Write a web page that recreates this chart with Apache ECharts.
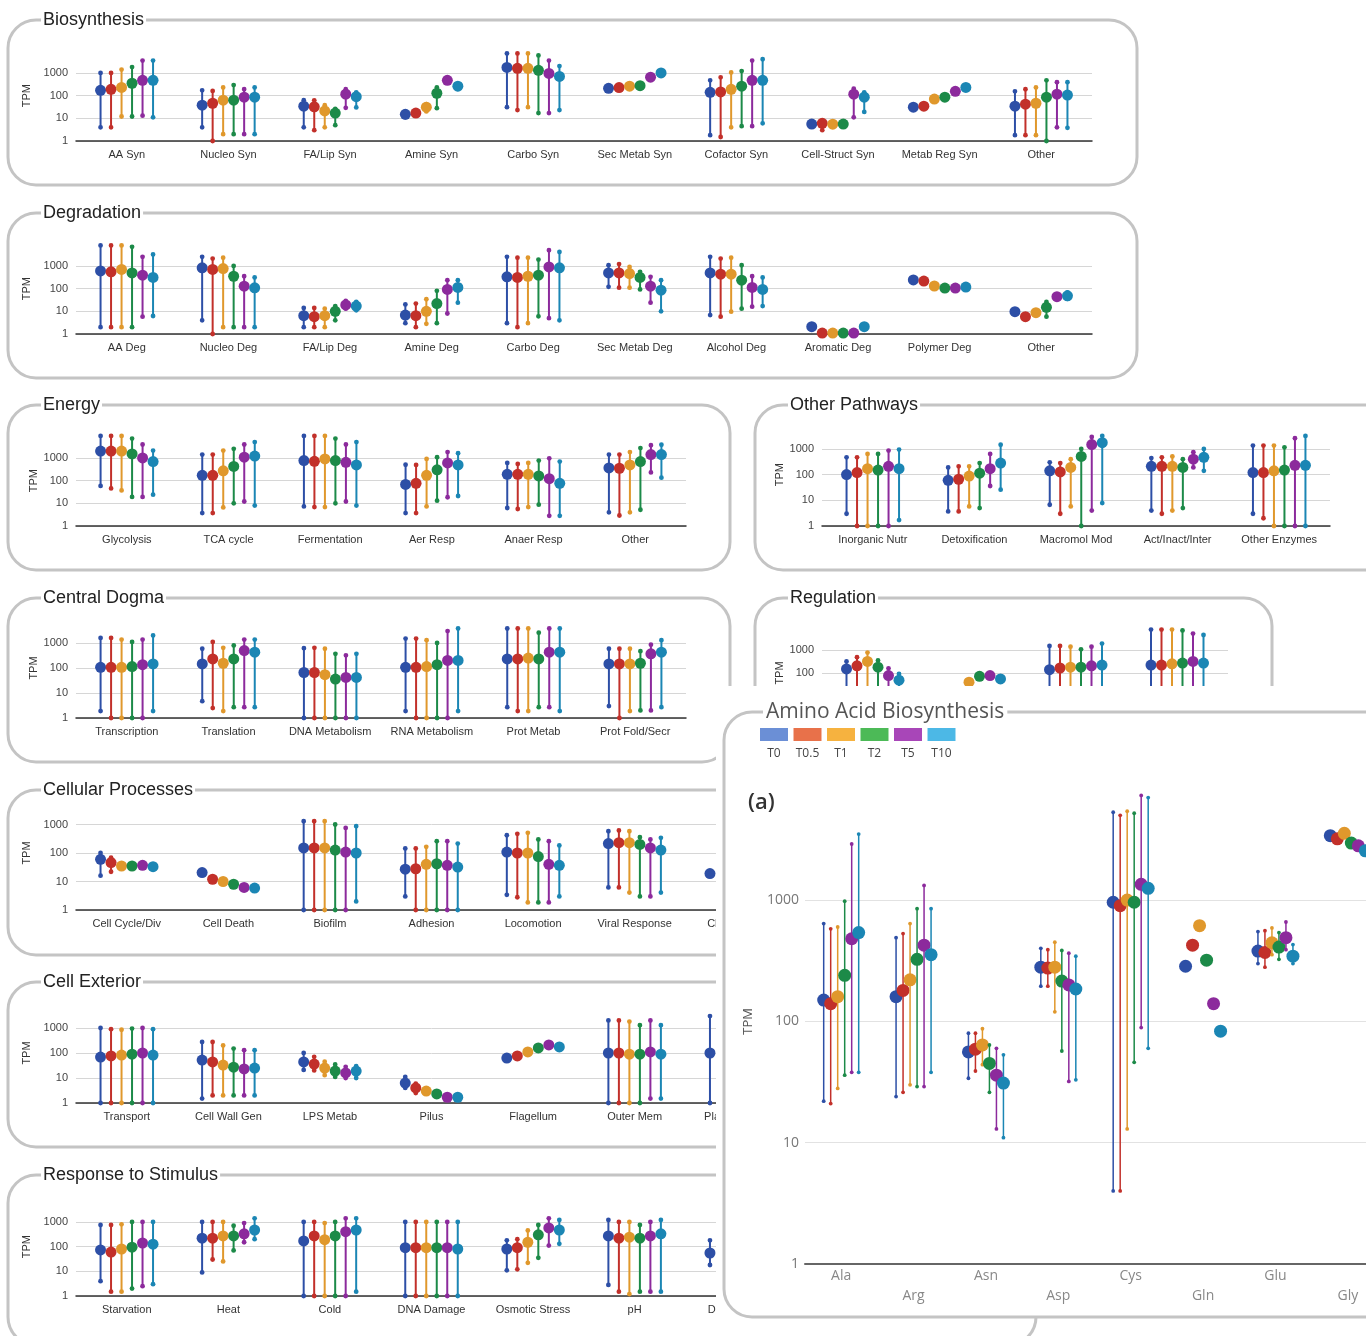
<!DOCTYPE html>
<html>
<head>
<meta charset="utf-8">
<title>Gene expression by functional category</title>
<script src="https://cdn.jsdelivr.net/npm/echarts@6/dist/echarts.min.js"></script>
<style>
  html, body { margin: 0; padding: 0; background: #fff; }
  #chart { width: 1366px; height: 1336px; }
</style>
</head>
<body>
<div id="chart"></div>
<script>
// time points and their colours
const times = ["T0", "T0.5", "T1", "T2", "T5", "T10"];
const seriesColors = ["#2d4fa6", "#c2302a", "#e0982c", "#1c8a48", "#8c2a9c", "#1b86b4"];
const legendColors = ["#6b8fd6", "#e8714a", "#f6b23f", "#4cba57", "#a846b8", "#4cb8e6"];

// each row = one category, each column = one time point (TPM)
const bioCats = ["AA Syn", "Nucleo Syn", "FA/Lip Syn", "Amine Syn", "Carbo Syn", "Sec Metab Syn", "Cofactor Syn", "Cell-Struct Syn", "Metab Reg Syn", "Other"];
const bioMed = [[170, 190, 230, 350, 470, 470], [38, 46, 63, 63, 85, 85], [34, 32, 21, 17, 115, 90], [15, 17, 31, 127, 470, 260], [1750, 1600, 1600, 1300, 950, 700], [210, 225, 260, 275, 650, 1000], [140, 145, 190, 260, 470, 470], [5.6, 6, 5.5, 5.6, 115, 85], [31, 34, 70, 85, 155, 230], [34, 42, 46, 85, 115, 105]];
const bioLo = [[4, 4, 12, 12, 13, 11], [4, 1, 2, 2, 2, 2], [4, 3, 4, 5, 29, 30], [11, 14, 20, 28, 380, 200], [31, 23, 31, 17, 17, 23], [210, 225, 260, 275, 650, 1000], [1.8, 1.5, 4, 4.5, 4.5, 6], [5.6, 3, 5.5, 5.6, 11, 19], [31, 34, 70, 85, 155, 230], [1.8, 1.8, 1.8, 1, 4, 3.8]];
const bioHi = [[1000, 1000, 1400, 1800, 3500, 3500], [170, 160, 230, 290, 190, 230], [63, 62, 38, 26, 190, 140], [19, 20, 42, 230, 560, 320], [7200, 7200, 7200, 5900, 3500, 2000], [210, 225, 260, 275, 650, 1000], [470, 640, 1050, 1200, 3500, 4000], [5.6, 6, 5.5, 5.6, 200, 140], [31, 34, 70, 85, 155, 230], [155, 190, 230, 470, 390, 390]];

const degCats = ["AA Deg", "Nucleo Deg", "FA/Lip Deg", "Amine Deg", "Carbo Deg", "Sec Metab Deg", "Alcohol Deg", "Aromatic Deg", "Polymer Deg", "Other"];
const degMed = [[600, 550, 700, 490, 390, 310], [820, 700, 760, 350, 128, 108], [6.4, 5.8, 6.4, 10, 19, 17], [6.8, 6.4, 10, 22, 92, 112], [330, 310, 350, 390, 900, 820], [490, 490, 460, 310, 128, 85], [490, 430, 430, 235, 112, 92], [2.1, 1.1, 1.1, 1.1, 1.1, 2.1], [240, 215, 130, 106, 106, 117], [9.6, 5.8, 8.7, 15, 44, 48]];
const degLo = [[2, 2, 2, 2, 5.8, 6.2], [4, 1, 2, 2, 2, 2], [2, 2, 2, 4, 13, 11], [3, 2, 2.8, 3, 8, 24], [3, 2, 3, 6, 5, 4], [120, 110, 110, 92, 24, 10], [6.8, 5.8, 9.6, 13, 16, 17], [2.1, 1.1, 1.1, 1.1, 1.1, 2.1], [240, 215, 130, 106, 106, 117], [9.6, 5.8, 8.7, 5.8, 44, 35]];
const degHi = [[8000, 8000, 8000, 6900, 2500, 3200], [2500, 2100, 2300, 1000, 350, 310], [14, 14, 13, 17, 29, 26], [20, 22, 34, 80, 235, 235], [2500, 2300, 2300, 1900, 4900, 4100], [1070, 1200, 900, 550, 330, 235], [2500, 2100, 2300, 1070, 350, 310], [2.1, 1.1, 1.1, 1.1, 1.1, 2.1], [240, 215, 130, 106, 106, 117], [9.6, 5.8, 8.7, 26, 44, 68]];

const enCats = ["Glycolysis", "TCA cycle", "Fermentation", "Aer Resp", "Anaer Resp", "Other"];
const enMed = [[2000, 2000, 2000, 1500, 1000, 690], [170, 170, 270, 420, 1070, 1200], [760, 710, 900, 760, 640, 490], [68, 76, 170, 300, 600, 490], [190, 190, 190, 160, 122, 76], [360, 350, 490, 690, 1400, 1400]];
const enLo = [[58, 45, 37, 19, 19, 24], [3.7, 3.7, 6.6, 10, 12, 7.9], [7.3, 6.8, 6.8, 10, 12, 7.9], [3.7, 3.7, 7.3, 13, 18.5, 21], [6.2, 5.6, 6.8, 8.7, 2.8, 2.8], [4, 2.9, 4, 5.2, 230, 135]];
const enHi = [[9300, 9300, 9300, 7100, 3900, 2100], [1400, 1400, 2100, 2500, 3900, 5000], [9300, 9300, 9300, 7100, 3900, 5000], [500, 490, 900, 1070, 1800, 1600], [600, 540, 600, 760, 960, 690], [1400, 1400, 1800, 2700, 3600, 3800]];

const opCats = ["Inorganic Nutr", "Detoxification", "Macromol Mod", "Act/Inact/Inter", "Other Enzymes"];
const opMed = [[100, 120, 170, 150, 210, 170], [60, 66, 88, 113, 170, 280], [140, 127, 190, 510, 1480, 1740], [210, 210, 210, 190, 400, 470], [120, 120, 140, 150, 230, 230]];
const opLo = [[3, 1, 1, 1, 1, 1.7], [3.7, 3.7, 5.8, 5, 36, 26], [6.7, 3, 5.8, 1, 4, 7.8], [4, 3, 4, 5, 190, 140], [3, 2, 1, 1, 1, 1]];
const opHi = [[470, 470, 640, 640, 860, 940], [190, 210, 210, 280, 640, 1450], [300, 280, 400, 1000, 2900, 3200], [440, 470, 510, 400, 740, 1000], [1350, 1350, 1350, 1150, 2600, 3200]];

const cdCats = ["Transcription", "Translation", "DNA Metabolism", "RNA Metabolism", "Prot Metab", "Prot Fold/Secr"];
const cdMed = [[106, 106, 106, 114, 136, 145], [145, 230, 155, 230, 500, 430], [66, 66, 54, 36, 42, 42], [106, 106, 114, 136, 200, 200], [230, 230, 250, 230, 430, 430], [145, 145, 145, 155, 370, 430]];
const cdLo = [[1.9, 1, 1, 1, 1, 1.9], [4.7, 2.5, 1.9, 2.7, 2.7, 2.7], [1, 1, 1, 1, 1, 1], [1.9, 1, 1, 1, 1, 1.9], [2.7, 1.9, 1.9, 2.7, 2.7, 1.9], [3, 1, 1.9, 2, 2, 2.7]];
const cdHi = [[1600, 1600, 1370, 1100, 1370, 2000], [590, 1100, 640, 800, 1370, 1370], [620, 640, 590, 370, 320, 370], [1500, 1500, 1300, 1000, 3000, 3800], [3800, 3800, 3800, 2600, 3800, 3800], [590, 590, 590, 470, 860, 1300]];

// labels of this panel are hidden under the inset
const regCats = ["Transcr Reg", "Signal Trans", "Two-Comp Sys", "Other Reg"];
const regMed = [[150, 205, 320, 180, 77, 49], [null, null, 40, 72, 77, 55], [140, 165, 180, 180, 205, 220], [220, 220, 250, 270, 320, 270]];
const regLo = [[2, 2, 1, 2, 2, 2], [null, null, 40, 72, 77, 55], [1, 1, 1, 1, 1, 1], [1, 1, 1, 1, 1, 1]];
const regHi = [[320, 490, 770, 350, 160, 91], [null, null, 40, 72, 77, 55], [1500, 1500, 1400, 1070, 1400, 1900], [7700, 7700, 7700, 7100, 5200, 4500]];

const cpCats = ["Cell Cycle/Div", "Cell Death", "Biofilm", "Adhesion", "Locomotion", "Viral Response", "Chemotaxis"];
const cpMed = [[60, 46, 35, 35, 37, 33], [20.6, 12, 10, 8, 6.2, 5.9], [150, 150, 150, 127, 108, 100], [27, 28, 40, 42, 37, 32], [108, 100, 100, 75, 40, 37], [215, 230, 230, 200, 150, 127], [19, null, null, null, null, null]];
const cpLo = [[16, 22, 35, 35, 37, 33], [20.6, 12, 10, 8, 6.2, 5.9], [1, 1, 1, 1, 1, 2], [3, 1, 1, 1, 1, 1], [3.4, 2.8, 1.85, 1.85, 1.85, 3], [6.2, 6.2, 4.1, 3, 3, 4.1], [19, null, null, null, null, null]];
const cpHi = [[100, 68, 35, 35, 37, 33], [20.6, 12, 10, 8, 6.2, 5.9], [1300, 1300, 1300, 1000, 760, 870], [145, 145, 165, 260, 260, 215], [420, 470, 510, 300, 260, 185], [580, 620, 580, 360, 300, 340], [19, null, null, null, null, null]];

const ceCats = ["Transport", "Cell Wall Gen", "LPS Metab", "Pilus", "Flagellum", "Outer Mem", "Plasma Mem"];
const ceMed = [[69, 76, 83, 90, 100, 83], [52, 44, 33, 27, 23, 25], [44, 36, 25, 19, 16, 19], [6.3, 4, 3, 2.3, 1.7, 1.7], [63, 76, 110, 160, 210, 175], [100, 100, 90, 90, 110, 90], [100, null, null, null, null, null]];
const ceLo = [[1, 1, 1, 1, 1, 1], [1.5, 2, 2, 2, 2, 2], [21, 20, 13, 11, 10, 10], [4, 2.5, 3, 2.3, 1.7, 1.7], [63, 76, 110, 160, 210, 175], [1, 1, 1, 1, 1.5, 1.5], [1, null, null, null, null, null]];
const ceHi = [[1000, 900, 850, 950, 1000, 900], [275, 275, 200, 150, 130, 130], [100, 70, 45, 35, 28, 30], [11, 6, 3, 2.3, 1.7, 1.7], [63, 76, 110, 160, 210, 175], [2000, 2000, 1800, 1300, 2000, 1300], [3000, null, null, null, null, null]];

const rsCats = ["Starvation", "Heat", "Cold", "DNA Damage", "Osmotic Stress", "pH", "Desiccation"];
const rsMed = [[73, 60, 80, 95, 140, 125], [220, 220, 270, 270, 330, 470], [170, 270, 190, 270, 400, 470], [90, 90, 90, 90, 90, 80], [80, 90, 150, 300, 570, 470], [270, 220, 240, 220, 270, 330], [55, null, null, null, null, null]];
const rsLo = [[4, 1.5, 1.5, 2, 2.5, 3], [9, 30, 25, 70, 150, 200], [1, 1, 1, 1, 1, 1.5], [1, 1, 1, 1, 1, 1], [11, 12, 22, 35, 110, 130], [2.8, 1.5, 1.2, 1.5, 1.5, 1.5], [18, null, null, null, null, null]];
const rsHi = [[750, 750, 800, 1000, 1000, 1000], [1000, 1000, 1000, 700, 900, 1400], [1000, 1000, 900, 1000, 1400, 1400], [1000, 1000, 1000, 1000, 1000, 1000], [180, 200, 450, 750, 1400, 1200], [1200, 1000, 1000, 750, 1000, 1200], [180, null, null, null, null, null]];

// inset (a): amino acid biosynthesis
const aaCats = ["Ala", "Arg", "Asn", "Asp", "Cys", "Gln", "Glu", "Gly"];
const aaMed = [[150, 140, 160, 240, 480, 540], [160, 180, 220, 325, 425, 355], [56, 59, 64, 45, 36, 31], [280, 275, 280, 215, 200, 185], [960, 900, 1000, 960, 1350, 1250], [285, 425, 615, 320, 140, 83], [380, 370, 445, 410, 490, 345], [3400, 3200, 3550, 2950, 2800, 2550]];
const aaLo = [[22, 21, 28, 36, 38, 38], [24, 26, 30, 29, 29, 38], [34, 39, 44, 26, 13, 11], [195, 195, 120, 57, 32, 33], [4, 4, 13, 46, 89, 60], [285, 425, 615, 320, 140, 83], [300, 280, 355, 325, 390, 300], [3400, 3200, 3550, 2950, 2800, 2550]];
const aaHi = [[640, 580, 600, 980, 2900, 3500], [490, 530, 640, 850, 1320, 850], [80, 80, 87, 64, 60, 53], [400, 390, 450, 385, 365, 345], [5300, 5000, 5400, 5200, 7300, 7000], [285, 425, 615, 320, 140, 83], [550, 560, 590, 540, 660, 430], [3400, 3200, 3550, 2950, 2800, 2550]];

// layout: box [x, y, w, h], grid [left, y of value 1, width, px per decade]
const panels = [
  { title: "Biosynthesis", cats: bioCats, med: bioMed, lo: bioLo, hi: bioHi, box: [8, 20, 1129, 165], tx: 43, grid: [76, 141, 1016, 22.7] },
  { title: "Degradation", cats: degCats, med: degMed, lo: degLo, hi: degHi, box: [8, 213, 1129, 165], tx: 43, grid: [76, 334, 1016, 22.7] },
  { title: "Energy", cats: enCats, med: enMed, lo: enLo, hi: enHi, box: [8, 405, 722, 165], tx: 43, grid: [76, 526, 610, 22.7] },
  { title: "Other Pathways", cats: opCats, med: opMed, lo: opLo, hi: opHi, box: [755, 405, 640, 165], tx: 790, grid: [822, 526, 508, 25.7] },
  { title: "Central Dogma", cats: cdCats, med: cdMed, lo: cdLo, hi: cdHi, box: [8, 598, 722, 164], tx: 43, grid: [76, 718, 610, 25] },
  { title: "Regulation", cats: regCats, med: regMed, lo: regLo, hi: regHi, box: [755, 598, 517, 165], tx: 790, grid: [822, 719, 406, 23] },
  { title: "Cellular Processes", cats: cpCats, med: cpMed, lo: cpLo, hi: cpHi, box: [8, 790, 1129, 165], tx: 43, grid: [76, 910, 711, 28.5] },
  { title: "Cell Exterior", cats: ceCats, med: ceMed, lo: ceLo, hi: ceHi, box: [8, 982, 1129, 165], tx: 43, grid: [76, 1103, 711, 25] },
  { title: "Response to Stimulus", cats: rsCats, med: rsMed, lo: rsLo, hi: rsHi, box: [8, 1175, 1028, 170], tx: 43, grid: [76, 1296, 711, 24.7] }
];
const inset = { title: "Amino Acid Biosynthesis", cats: aaCats, med: aaMed, lo: aaLo, hi: aaHi, grid: [805, 1264, 579, 121.3] };

const chart = echarts.init(document.getElementById("chart"));

function plain(v) {
  return String(v);
}

function whisker(t, step, r, lw, color) {
  return function (params, api) {
    const c = api.value(0);
    const lo = api.coord([c, api.value(1)]);
    const md = api.coord([c, api.value(2)]);
    const hi = api.coord([c, api.value(3)]);
    const x = md[0] + (t - 2.5) * step;
    return {
      type: "group",
      children: [
        { type: "line", shape: { x1: x, y1: lo[1], x2: x, y2: hi[1] }, style: { stroke: color, lineWidth: lw } },
        { type: "circle", shape: { cx: x, cy: lo[1], r: lw + 0.4 }, style: { fill: color } },
        { type: "circle", shape: { cx: x, cy: hi[1], r: lw + 0.4 }, style: { fill: color } },
        { type: "circle", shape: { cx: x, cy: md[1], r: r }, style: { fill: color } }
      ]
    };
  };
}

function rows(p, t) {
  const out = [];
  p.cats.forEach(function (c, i) {
    if (p.med[i][t] != null) out.push([i, p.lo[i][t], p.med[i][t], p.hi[i][t]]);
  });
  return out;
}

const grids = [], xAxes = [], yAxes = [], series = [], elements = [];

panels.forEach(function (p, k) {
  const g = p.grid;
  grids.push({ left: g[0], top: g[1] - 4 * g[3], width: g[2], height: 4 * g[3], outerBoundsMode: "none" });
  xAxes.push({
    type: "category", gridIndex: k, data: p.cats,
    axisLine: { lineStyle: { color: "#333", width: 1.5 } },
    axisTick: { show: false },
    axisLabel: { interval: 0, fontSize: 11, color: "#333", margin: 8, fontFamily: "Liberation Sans" }
  });
  yAxes.push({
    type: "log", logBase: 10, gridIndex: k, min: 1, max: 10000,
    name: "TPM", nameLocation: "middle", nameGap: 28,
    nameTextStyle: { fontSize: 11, color: "#333", fontFamily: "Liberation Sans" },
    axisLine: { show: false }, axisTick: { show: false },
    axisLabel: { fontSize: 11, color: "#444", margin: 8, showMaxLabel: false, fontFamily: "Liberation Sans", formatter: plain },
    splitLine: { showMaxLine: false, lineStyle: { color: "#d6d6d6" } }
  });
  times.forEach(function (tm, t) {
    series.push({
      type: "custom", name: tm, xAxisIndex: k, yAxisIndex: k, z: 2,
      encode: { x: 0, y: [1, 2, 3] },
      renderItem: whisker(t, 10.5, 5.5, 2, seriesColors[t]),
      data: rows(p, t)
    });
  });
  const b = p.box;
  elements.push({
    type: "rect", z: 1, silent: true,
    shape: { x: b[0], y: b[1], width: b[2], height: b[3], r: 28 },
    style: { fill: "none", stroke: "#c4c4c4", lineWidth: 3 }
  });
  elements.push({
    type: "text", z: 1, x: p.tx - 2, y: b[1],
    style: { text: p.title, fontSize: 18, fill: "#222", fontFamily: "Liberation Sans", verticalAlign: "middle", backgroundColor: "#fff", padding: [0, 2] }
  });
});

// inset panel drawn over the others; its plot runs past the right edge
const k = panels.length;
const ig = inset.grid;
grids.push({ left: ig[0], top: ig[1] - 4 * ig[3], width: ig[2], height: 4 * ig[3], outerBoundsMode: "none" });
xAxes.push({
  type: "category", gridIndex: k, data: inset.cats, z: 22,
  axisLine: { lineStyle: { color: "#666", width: 2 } },
  axisTick: { show: false },
  axisLabel: {
    interval: 0, fontSize: 14, color: "#888", margin: 2, lineHeight: 20, fontFamily: "Open Sans",
    formatter: function (v, i) { return i % 2 ? "\n" + v : v; }
  }
});
yAxes.push({
  type: "log", logBase: 10, gridIndex: k, min: 1, max: 10000, z: 22,
  name: "TPM", nameLocation: "middle", nameGap: 50,
  nameTextStyle: { fontSize: 13, color: "#555", fontFamily: "Open Sans" },
  axisLine: { show: false }, axisTick: { show: false },
  axisLabel: { fontSize: 14, color: "#777", margin: 6, showMaxLabel: false, fontFamily: "Open Sans", formatter: plain },
  splitLine: { showMaxLine: false, lineStyle: { color: "#e2e2e2" } }
});
times.forEach(function (tm, t) {
  series.push({
    type: "custom", name: tm, xAxisIndex: k, yAxisIndex: k, z: 23,
    encode: { x: 0, y: [1, 2, 3] },
    renderItem: whisker(t, 7, 6.5, 1.5, seriesColors[t]),
    data: rows(inset, t)
  });
});

elements.push({ type: "rect", z: 20, silent: true, shape: { x: 716, y: 686, width: 660, height: 632 }, style: { fill: "#fff" } });
elements.push({
  type: "rect", z: 21, silent: true,
  shape: { x: 724, y: 712, width: 700, height: 605, r: 28 },
  style: { fill: "none", stroke: "#c4c4c4", lineWidth: 3 }
});
elements.push({
  type: "text", z: 24, x: 763, y: 712,
  style: { text: inset.title, fontSize: 21, fill: "#555", fontFamily: "Open Sans", verticalAlign: "middle", backgroundColor: "#fff", padding: [0, 3] }
});
times.forEach(function (tm, t) {
  const x = 760 + t * 33.5;
  elements.push({ type: "rect", z: 24, shape: { x: x, y: 728, width: 28, height: 13 }, style: { fill: legendColors[t] } });
  elements.push({
    type: "text", z: 24, x: x + 14, y: 754,
    style: { text: tm, fontSize: 12, fill: "#444", fontFamily: "Open Sans", align: "center", verticalAlign: "middle" }
  });
});
elements.push({
  type: "text", z: 24, x: 748, y: 803,
  style: { text: "(a)", fontSize: 22, fontWeight: 600, fill: "#333", fontFamily: "Open Sans", verticalAlign: "middle" }
});

chart.setOption({
  animation: false,
  backgroundColor: "#fff",
  grid: grids,
  xAxis: xAxes,
  yAxis: yAxes,
  series: series,
  graphic: { elements: elements }
});
</script>
</body>
</html>
